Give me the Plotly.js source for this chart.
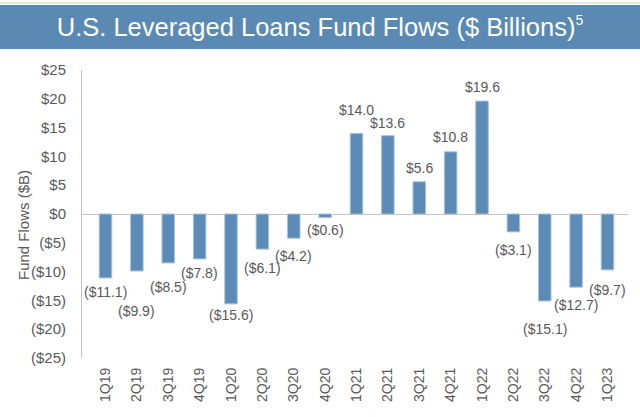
<!DOCTYPE html>
<html>
<head>
<meta charset="utf-8">
<script src="https://cdn.plot.ly/plotly-3.0.1.min.js"></script>
<style>
  html, body { margin: 0; padding: 0; background: #ffffff; }
  #chart { width: 640px; height: 417px; }
</style>
</head>
<body>
<div id="chart"></div>
<script>
// ---- data ----
const categories = ["1Q19","2Q19","3Q19","4Q19","1Q20","2Q20","3Q20","4Q20",
                    "1Q21","2Q21","3Q21","4Q21","1Q22","2Q22","3Q22","4Q22","1Q23"];
const flows = [-11.1, -9.9, -8.5, -7.8, -15.6, -6.1, -4.2, -0.6,
               14.0, 13.6, 5.6, 10.8, 19.6, -3.1, -15.1, -12.7, -9.7];
const yTickValues = [-25, -20, -15, -10, -5, 0, 5, 10, 15, 20, 25];

// label styling: distance (px) between bar end and label centre
const labelGap = [14, 40, 24, 14, 11, 19, 18, 13, 23, 13, 14, 15, 14, 18, 28, 18, 20];

function money(v) {
  const s = "$" + Math.abs(v).toFixed(1);
  return v < 0 ? "(" + s + ")" : s;
}
function tickMoney(v) {
  const s = "$" + Math.abs(v);
  return v < 0 ? "(" + s + ")" : s;
}

const FONT = "Liberation Sans, Arial, Helvetica, sans-serif";
const TXT = "#595959";

const trace = {
  type: "bar",
  x: categories,
  y: flows,
  width: 0.4,
  marker: { color: "#5b8bb6", line: { color: "#a9c3db", width: 1 } },
  hoverinfo: "x+y"
};

// plot area in pixels: x 82..628, y 70..358
const PW = 546, PH = 288, PL = 82, PB = 358;
const px = X => (X - PL) / PW;
const py = Y => (PB - Y) / PH;

const annotations = flows.map((v, i) => ({
  x: categories[i],
  y: v,
  xref: "x",
  yref: "y",
  text: money(v),
  showarrow: false,
  xanchor: "center",
  yanchor: "middle",
  yshift: v >= 0 ? labelGap[i] : -labelGap[i],
  font: { family: FONT, size: 14, color: TXT }
}));

annotations.push({
  xref: "paper", yref: "paper",
  x: px(23), y: py(225),
  text: "Fund Flows ($B)",
  textangle: -90,
  showarrow: false,
  xanchor: "center", yanchor: "middle",
  font: { family: FONT, size: 15, color: TXT }
});

const layout = {
  width: 640,
  height: 417,
  margin: { l: 82, r: 12, t: 70, b: 59 },
  paper_bgcolor: "#ffffff",
  plot_bgcolor: "#ffffff",
  showlegend: false,
  font: { family: FONT, size: 14, color: TXT },
  title: {
    text: "U.S. Leveraged Loans Fund Flows ($ Billions)<sup><span style=\"font-size:14px\">5</span></sup>",
    font: { family: FONT, size: 25.5, color: "#ffffff" },
    x: 0.5, xref: "container", xanchor: "center",
    y: 1 - 27 / 417, yref: "container", yanchor: "middle"
  },
  xaxis: {
    type: "category",
    tickangle: -90,
    showline: false,
    showgrid: false,
    ticks: "",
    ticklabelstandoff: 6,
    tickfont: { family: FONT, size: 14, color: TXT },
    automargin: false
  },
  yaxis: {
    range: [-25, 25],
    tickvals: yTickValues,
    ticktext: yTickValues.map(tickMoney),
    showgrid: false,
    showline: true,
    linecolor: "#c4c4c4",
    linewidth: 1,
    zeroline: true,
    zerolinecolor: "#c4c4c4",
    zerolinewidth: 1,
    ticks: "",
    ticklabelstandoff: 12,
    tickfont: { family: FONT, size: 15, color: TXT },
    automargin: false
  },
  shapes: [
    {
      type: "rect", xref: "paper", yref: "paper", layer: "below",
      x0: px(0), x1: px(640), y0: py(49), y1: py(5),
      fillcolor: "#5a8ab4", line: { width: 0 }
    },
    {
      type: "line", xref: "paper", yref: "paper",
      x0: px(0), x1: px(640), y0: py(3), y1: py(3),
      line: { color: "#d5e0ea", width: 1.5 }
    }
  ],
  annotations: annotations
};

Plotly.newPlot("chart", [trace], layout, { displayModeBar: false, staticPlot: true });
</script>
</body>
</html>
